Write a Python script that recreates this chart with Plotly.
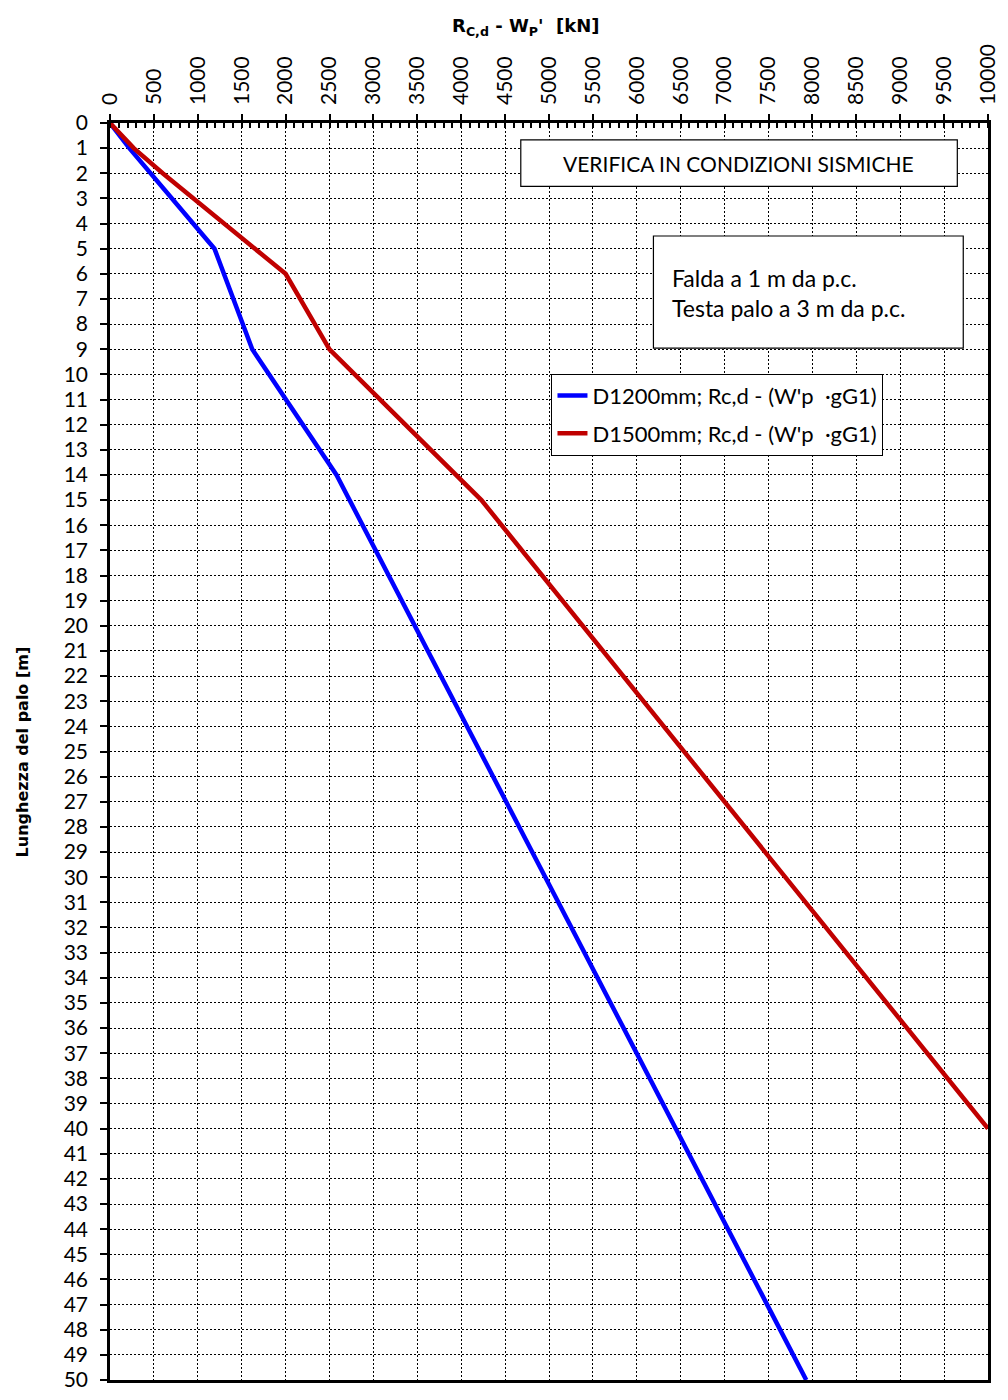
import plotly.graph_objects as go

# Pile length [m] vs. design compressive resistance minus effective pile weight [kN]
depth_d1200 = [0, 1, 5, 9, 14, 50]
res_d1200 = [0, 220, 1190, 1620, 2580, 7930]

depth_d1500 = [0, 1, 2, 6, 9, 15, 40]
res_d1500 = [0, 270, 600, 2000, 2500, 4230, 10000]

x_ticks = list(range(0, 10001, 500))
y_ticks = list(range(0, 51))

name_d1200 = "D1200mm; Rc,d - (W'p \u00a0·gG1)"
name_d1500 = "D1500mm; Rc,d - (W'p \u00a0·gG1)"

# plot-area geometry in pixels (used for placing boxes/labels)
W_FIG, H_FIG = 1008, 1400
L, R, T, B = 110, 997, 123, 1391


def px(xp):
    return (xp - L) / (R - L)


def py(yp):
    return (B - yp) / (B - T)


TICK_FONT = dict(family="Lato, 'DejaVu Sans', sans-serif", size=21, color="black")
BOX_FONT = dict(family="Lato, 'Open Sans', sans-serif", size=21, color="black")

fig = go.Figure()
fig.add_trace(go.Scatter(x=res_d1200, y=depth_d1200, mode="lines", name=name_d1200,
                         legendgroup="a",
                         line=dict(color="#0000FF", width=4.5)))
fig.add_trace(go.Scatter(x=res_d1500, y=depth_d1500, mode="lines", name=name_d1500,
                         legendgroup="b",
                         line=dict(color="#C00000", width=4.5)))

grid = dict(showgrid=True, gridcolor="black", gridwidth=1, griddash="2px,2px")

fig.update_xaxes(
    side="top", range=[0, 10000], tickvals=x_ticks,
    ticktext=[str(v) for v in x_ticks], tickangle=-90,
    ticks="outside", ticklen=6, tickwidth=1.5, tickcolor="black",
    minor=dict(dtick=100, ticks="inside", ticklen=5, tickwidth=1.5,
               tickcolor="black", showgrid=False),
    showline=True, linecolor="black", linewidth=2.5, mirror=True,
    zeroline=False, tickfont=TICK_FONT, ticklabelstandoff=5, **grid)

fig.update_yaxes(
    range=[50, 0], tickvals=y_ticks, ticktext=[str(v) for v in y_ticks],
    ticks="outside", ticklen=7, tickwidth=1.5, tickcolor="black",
    showline=True, linecolor="black", linewidth=2.5, mirror=True,
    zeroline=False, tickfont=TICK_FONT, ticklabelstandoff=8, **grid)

# framed text boxes
boxes = [(525, 140, 966, 187), (659, 237, 972, 350)]
for x0, y0, x1, y1 in boxes:
    fig.add_shape(type="rect", xref="paper", yref="paper",
                  x0=px(x0), x1=px(x1), y0=py(y1), y1=py(y0),
                  line=dict(color="black", width=1.2), fillcolor="white",
                  layer="above")

annotations = [
    dict(text="VERIFICA IN CONDIZIONI SISMICHE", x=px(745), y=py(164),
         xanchor="center", yanchor="middle", font=BOX_FONT),
    dict(text="Falda a 1 m da p.c.<br>Testa palo a 3 m da p.c.",
         x=px(676), y=py(294), xanchor="left", yanchor="middle", align="left",
         font=dict(BOX_FONT, size=23)),
    dict(text="<b>R<sub>C,d</sub> - W<sub>P</sub>'\u00a0\u00a0[kN]</b>",
         x=px(530), y=py(26), xanchor="center", yanchor="middle",
         font=dict(family="'DejaVu Sans', sans-serif", size=18, color="black")),
    dict(text="<b>Lunghezza del palo [m]</b>", x=px(22), y=0.5, textangle=-90,
         xanchor="center", yanchor="middle",
         font=dict(family="'DejaVu Sans', sans-serif", size=16, color="black")),
]
for a in annotations:
    fig.add_annotation(xref="paper", yref="paper", showarrow=False, **a)

fig.update_layout(
    width=W_FIG, height=H_FIG,
    margin=dict(l=L, r=W_FIG - R, t=T, b=H_FIG - B),
    paper_bgcolor="white", plot_bgcolor="white",
    showlegend=True,
    legend=dict(x=px(556), y=py(376), xanchor="left", yanchor="top",
                bgcolor="white", bordercolor="black", borderwidth=1,
                font=dict(family="Lato, 'DejaVu Sans', sans-serif", size=22,
                          color="black"),
                tracegroupgap=6, traceorder="grouped"),
)

fig.write_html("out.html")
